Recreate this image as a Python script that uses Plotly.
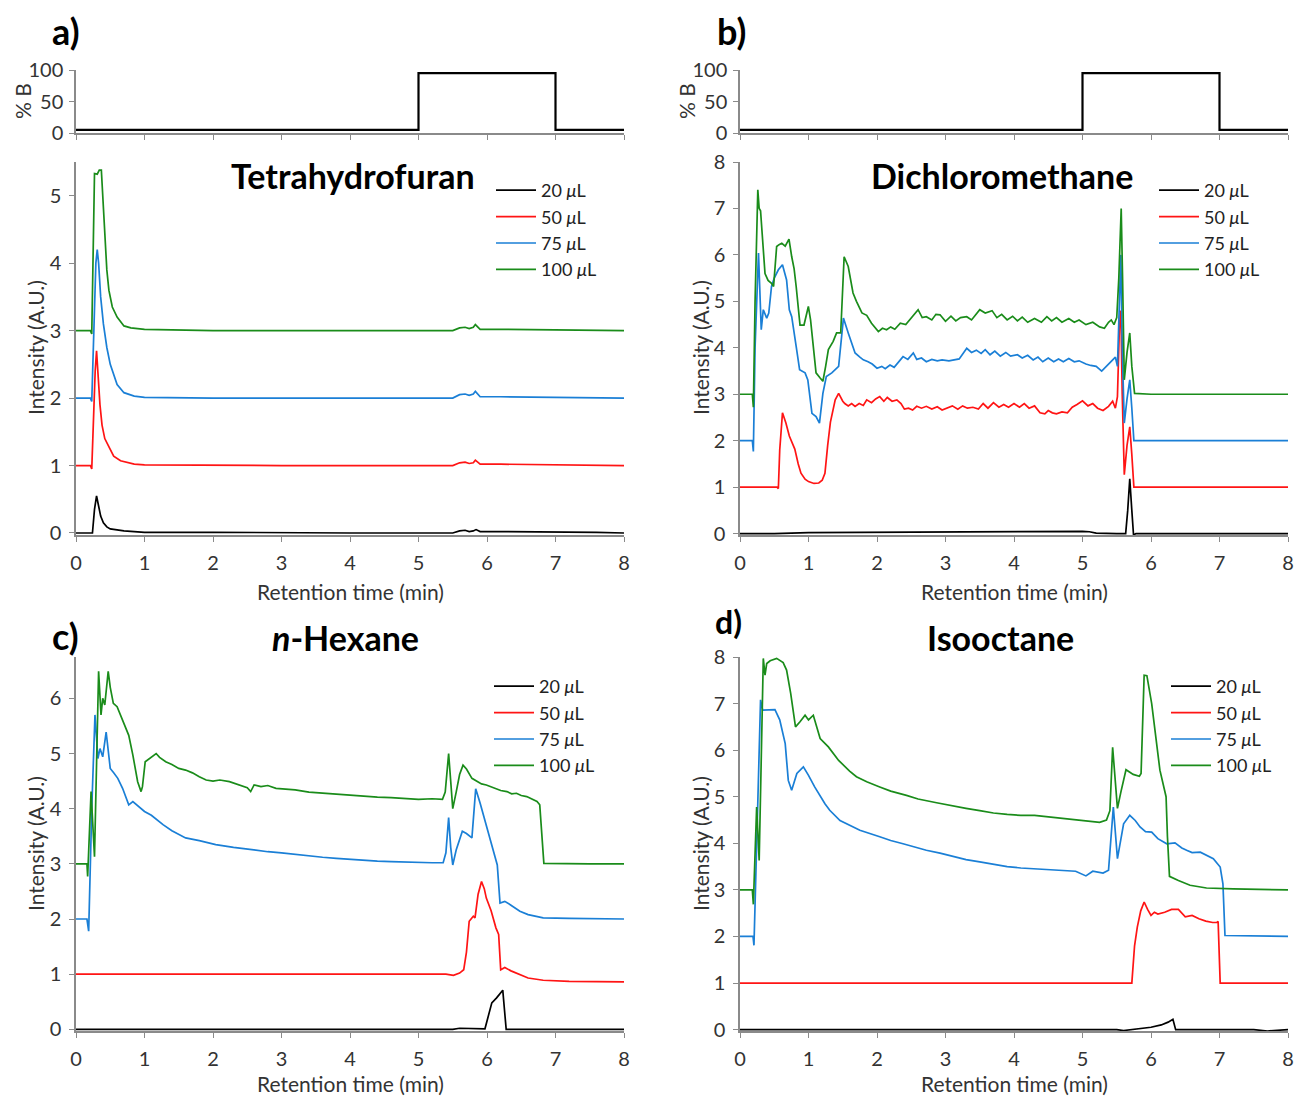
import plotly.graph_objects as go

# ---------------- data ----------------
VOLUMES = ["20", "50", "75", "100"]

GRAD_T = [0, 5.0, 5.0, 7.0, 7.0, 8.0]
GRAD_B = [5, 5, 95, 95, 5, 5]

# Tetrahydrofuran (time, intensity)
THF_20 = [(0, 0.0), (0.22, 0.0), (0.24, 0.0), (0.27, 0.35), (0.3, 0.55), (0.33, 0.4), (0.36, 0.25), (0.4, 0.15),
          (0.45, 0.09), (0.5, 0.06), (0.6, 0.04), (0.7, 0.03), (0.85, 0.02), (1.0, 0.01), (2.0, 0.01), (3.0, 0.0),
          (4.0, 0.0), (5.0, 0.0), (5.5, 0.0), (5.6, 0.03), (5.68, 0.04), (5.74, 0.02), (5.8, 0.03), (5.84, 0.05),
          (5.9, 0.02), (6.2, 0.02), (6.25, 0.02), (7.0, 0.01), (7.6, 0.01), (8.0, 0.0)]
THF_50 = [(0, 1.0), (0.21, 1.0), (0.23, 0.95), (0.25, 1.6), (0.28, 2.4), (0.3, 2.7), (0.32, 2.3), (0.35, 1.9),
          (0.38, 1.6), (0.42, 1.4), (0.47, 1.3), (0.55, 1.14), (0.65, 1.07), (0.75, 1.04), (0.85, 1.02),
          (1.0, 1.01), (2.0, 1.0), (3.0, 1.0), (4.0, 1.0), (5.0, 1.0), (5.5, 1.0), (5.6, 1.04), (5.68, 1.05),
          (5.74, 1.03), (5.8, 1.04), (5.83, 1.08), (5.9, 1.02), (6.2, 1.02), (7.6, 1.01), (8.0, 1.0)]
THF_75 = [(0, 2.0), (0.21, 2.0), (0.23, 1.95), (0.26, 3.2), (0.29, 4.0), (0.31, 4.2), (0.33, 4.0), (0.36, 3.5),
          (0.4, 3.1), (0.45, 2.75), (0.5, 2.5), (0.6, 2.2), (0.7, 2.08), (0.85, 2.03), (1.0, 2.01), (2.0, 2.0),
          (3.0, 2.0), (4.0, 2.0), (5.0, 2.0), (5.5, 2.0), (5.6, 2.05), (5.68, 2.06), (5.74, 2.04), (5.8, 2.06),
          (5.83, 2.1), (5.9, 2.02), (6.2, 2.02), (7.6, 2.01), (8.0, 2.0)]
THF_100 = [(0, 3.0), (0.21, 3.0), (0.23, 2.95), (0.25, 4.5), (0.27, 5.33), (0.31, 5.32), (0.34, 5.38),
           (0.37, 5.38), (0.39, 5.0), (0.42, 4.5), (0.45, 3.9), (0.48, 3.6), (0.53, 3.35), (0.6, 3.2),
           (0.7, 3.07), (0.8, 3.04), (1.0, 3.02), (2.0, 3.0), (3.0, 3.0), (4.0, 3.0), (5.0, 3.0), (5.5, 3.0),
           (5.6, 3.04), (5.68, 3.05), (5.74, 3.03), (5.8, 3.05), (5.83, 3.09), (5.9, 3.02), (6.2, 3.02),
           (7.6, 3.01), (8.0, 3.0)]

# Dichloromethane
DCM_20 = [(0, 0.0), (0.5, 0.0), (1.0, 0.02), (2.0, 0.03), (3.0, 0.04), (4.0, 0.05), (5.0, 0.05), (5.1, 0.04),
          (5.2, 0.01), (5.5, 0.0), (5.63, 0.0), (5.66, 0.5), (5.69, 1.18), (5.72, 0.5), (5.745, -0.03),
          (5.78, 0.0), (8.0, 0.0)]
DCM_50 = [(0, 1.0), (0.54, 1.0), (0.56, 0.97), (0.58, 1.8), (0.62, 2.6), (0.67, 2.38), (0.72, 2.1), (0.76, 1.95),
          (0.8, 1.82), (0.85, 1.5), (0.89, 1.3), (0.95, 1.17), (1.0, 1.12), (1.08, 1.08), (1.15, 1.09),
          (1.2, 1.15), (1.24, 1.3), (1.28, 1.9), (1.32, 2.4), (1.39, 2.88), (1.44, 3.02), (1.5, 2.85),
          (1.53, 2.8), (1.58, 2.75), (1.63, 2.8), (1.68, 2.74), (1.74, 2.8), (1.8, 2.76), (1.85, 2.88),
          (1.92, 2.82), (1.98, 2.9), (2.04, 2.95), (2.1, 2.85), (2.15, 2.93), (2.22, 2.85), (2.29, 2.88),
          (2.35, 2.8), (2.4, 2.68), (2.46, 2.7), (2.52, 2.66), (2.58, 2.74), (2.65, 2.7), (2.72, 2.74),
          (2.8, 2.68), (2.88, 2.73), (2.95, 2.66), (3.02, 2.7), (3.1, 2.75), (3.18, 2.68), (3.25, 2.75),
          (3.32, 2.7), (3.4, 2.72), (3.48, 2.68), (3.55, 2.8), (3.62, 2.7), (3.7, 2.82), (3.78, 2.72),
          (3.85, 2.78), (3.92, 2.72), (4.0, 2.8), (4.08, 2.72), (4.15, 2.8), (4.22, 2.7), (4.3, 2.75),
          (4.38, 2.6), (4.45, 2.58), (4.5, 2.65), (4.56, 2.6), (4.62, 2.58), (4.7, 2.62), (4.78, 2.6),
          (4.85, 2.72), (4.92, 2.78), (5.0, 2.86), (5.08, 2.75), (5.15, 2.8), (5.22, 2.7), (5.3, 2.65),
          (5.38, 2.74), (5.44, 2.85), (5.48, 2.7), (5.51, 2.95), (5.54, 4.5), (5.56, 4.8), (5.58, 3.0),
          (5.61, 1.27), (5.65, 1.9), (5.69, 2.3), (5.72, 1.7), (5.75, 1.0), (6.0, 1.0), (8.0, 1.0)]
DCM_75 = [(0, 2.0), (0.18, 2.0), (0.195, 1.77), (0.22, 4.0), (0.27, 6.04), (0.31, 4.39), (0.34, 4.82),
          (0.39, 4.64), (0.42, 4.75), (0.46, 5.32), (0.5, 5.5), (0.56, 5.68), (0.62, 5.79), (0.68, 5.46),
          (0.72, 4.82), (0.755, 4.67), (0.82, 4.03), (0.87, 3.53), (0.95, 3.46), (0.99, 3.31), (1.05, 2.59),
          (1.11, 2.52), (1.16, 2.38), (1.21, 3.02), (1.26, 3.38), (1.34, 3.46), (1.44, 3.6), (1.48, 4.3),
          (1.51, 4.64), (1.58, 4.32), (1.68, 3.89), (1.75, 3.8), (1.8, 3.74), (1.87, 3.7), (1.93, 3.65),
          (2.0, 3.56), (2.07, 3.6), (2.12, 3.55), (2.19, 3.63), (2.25, 3.58), (2.32, 3.7), (2.38, 3.81),
          (2.45, 3.75), (2.53, 3.89), (2.58, 3.75), (2.65, 3.78), (2.72, 3.7), (2.8, 3.75), (2.88, 3.72),
          (2.95, 3.74), (3.05, 3.72), (3.11, 3.74), (3.2, 3.76), (3.31, 3.99), (3.38, 3.9), (3.45, 3.95),
          (3.52, 3.88), (3.58, 3.96), (3.65, 3.85), (3.72, 3.93), (3.8, 3.82), (3.88, 3.9), (3.95, 3.82),
          (4.05, 3.85), (4.12, 3.78), (4.2, 3.84), (4.28, 3.74), (4.35, 3.8), (4.42, 3.7), (4.5, 3.78),
          (4.58, 3.7), (4.65, 3.76), (4.72, 3.7), (4.8, 3.77), (4.88, 3.7), (4.95, 3.72), (5.05, 3.65),
          (5.12, 3.62), (5.2, 3.6), (5.28, 3.5), (5.35, 3.6), (5.42, 3.7), (5.48, 3.8), (5.51, 3.6),
          (5.54, 5.0), (5.56, 6.0), (5.58, 4.0), (5.61, 2.38), (5.65, 2.9), (5.69, 3.31), (5.72, 2.7),
          (5.75, 2.0), (6.0, 2.0), (8.0, 2.0)]
DCM_100 = [(0, 3.0), (0.18, 3.0), (0.195, 2.72), (0.22, 5.0), (0.26, 7.4), (0.28, 7.0), (0.3, 6.95),
           (0.33, 6.2), (0.365, 5.6), (0.41, 5.45), (0.46, 5.39), (0.49, 5.32), (0.535, 6.18), (0.57, 6.22),
           (0.61, 6.25), (0.66, 6.19), (0.715, 6.34), (0.755, 5.96), (0.79, 5.7), (0.82, 5.32), (0.876, 4.49),
           (0.934, 4.49), (0.998, 4.89), (1.03, 4.6), (1.07, 4.0), (1.11, 3.46), (1.17, 3.35), (1.21, 3.28),
           (1.25, 3.6), (1.29, 3.96), (1.36, 4.14), (1.41, 4.32), (1.47, 4.32), (1.52, 5.96), (1.58, 5.75),
           (1.65, 5.18), (1.7, 5.0), (1.78, 4.75), (1.85, 4.7), (1.92, 4.53), (2.02, 4.35), (2.08, 4.42),
           (2.14, 4.39), (2.2, 4.45), (2.26, 4.4), (2.34, 4.53), (2.42, 4.5), (2.5, 4.65), (2.6, 4.82),
           (2.66, 4.65), (2.72, 4.67), (2.8, 4.6), (2.86, 4.72), (2.92, 4.71), (3.0, 4.57), (3.08, 4.68),
           (3.15, 4.58), (3.22, 4.65), (3.31, 4.67), (3.38, 4.6), (3.45, 4.72), (3.5, 4.82), (3.58, 4.75),
           (3.68, 4.8), (3.75, 4.65), (3.82, 4.72), (3.9, 4.6), (3.98, 4.68), (4.05, 4.58), (4.12, 4.66),
           (4.2, 4.55), (4.3, 4.63), (4.4, 4.55), (4.48, 4.67), (4.55, 4.58), (4.62, 4.65), (4.7, 4.55),
           (4.8, 4.63), (4.88, 4.55), (4.95, 4.6), (5.05, 4.5), (5.15, 4.55), (5.25, 4.45), (5.32, 4.42),
           (5.38, 4.55), (5.42, 4.6), (5.46, 4.5), (5.5, 4.65), (5.53, 5.5), (5.565, 7.0), (5.585, 5.5),
           (5.61, 3.31), (5.65, 3.9), (5.69, 4.32), (5.72, 3.6), (5.76, 3.02), (6.0, 3.0), (8.0, 3.0)]

# n-Hexane
HEX_20 = [(0, 0.0), (5.5, 0.0), (5.6, 0.02), (5.97, 0.01), (6.07, 0.48), (6.14, 0.57), (6.23, 0.71),
          (6.28, 0.0), (8.0, 0.0)]
HEX_50 = [(0, 1.0), (5.4, 1.0), (5.51, 0.98), (5.6, 1.02), (5.66, 1.08), (5.7, 1.4), (5.74, 1.96), (5.8, 2.05),
          (5.825, 2.02), (5.87, 2.45), (5.92, 2.68), (5.96, 2.55), (5.99, 2.38), (6.06, 2.15), (6.13, 1.84),
          (6.17, 1.72), (6.2, 1.08), (6.26, 1.12), (6.35, 1.06), (6.48, 0.99), (6.6, 0.93), (6.82, 0.89),
          (7.2, 0.87), (8.0, 0.86)]
HEX_75 = [(0, 2.0), (0.16, 2.0), (0.185, 1.78), (0.23, 4.0), (0.277, 5.7), (0.32, 4.91), (0.35, 5.09),
          (0.39, 4.94), (0.44, 5.39), (0.5, 4.73), (0.55, 4.65), (0.61, 4.55), (0.68, 4.37), (0.77, 4.07),
          (0.83, 4.13), (0.9, 4.05), (1.0, 3.95), (1.1, 3.88), (1.27, 3.71), (1.4, 3.6), (1.6, 3.47),
          (1.8, 3.42), (2.04, 3.35), (2.3, 3.3), (2.58, 3.25), (2.8, 3.22), (3.0, 3.2), (3.2, 3.17),
          (3.4, 3.14), (3.6, 3.12), (3.8, 3.1), (4.0, 3.08), (4.2, 3.07), (4.4, 3.05), (4.6, 3.04),
          (4.8, 3.03), (5.0, 3.02), (5.2, 3.02), (5.36, 3.02), (5.4, 3.2), (5.44, 3.84), (5.47, 3.3),
          (5.5, 2.98), (5.55, 3.25), (5.64, 3.59), (5.7, 3.55), (5.78, 3.47), (5.835, 4.36), (5.9, 4.1),
          (5.99, 3.7), (6.07, 3.3), (6.15, 2.98), (6.19, 2.29), (6.26, 2.32), (6.35, 2.25), (6.48, 2.14),
          (6.6, 2.08), (6.82, 2.02), (7.2, 2.01), (8.0, 2.0)]
HEX_100 = [(0, 3.0), (0.16, 3.0), (0.17, 2.77), (0.22, 4.31), (0.27, 3.13), (0.33, 6.49), (0.365, 5.7),
           (0.39, 6.0), (0.42, 5.88), (0.47, 6.49), (0.5, 6.2), (0.545, 5.91), (0.6, 5.85), (0.66, 5.67),
           (0.72, 5.5), (0.77, 5.33), (0.83, 4.97), (0.9, 4.49), (0.95, 4.31), (0.97, 4.4), (1.01, 4.85),
           (1.08, 4.92), (1.17, 5.0), (1.22, 4.93), (1.31, 4.85), (1.4, 4.8), (1.5, 4.73), (1.6, 4.7),
           (1.7, 4.65), (1.8, 4.58), (1.9, 4.52), (2.0, 4.5), (2.1, 4.52), (2.24, 4.49), (2.35, 4.44),
           (2.43, 4.4), (2.5, 4.38), (2.55, 4.31), (2.6, 4.43), (2.7, 4.4), (2.8, 4.42), (2.92, 4.37),
           (3.0, 4.36), (3.2, 4.34), (3.4, 4.3), (3.6, 4.28), (3.8, 4.26), (4.0, 4.24), (4.2, 4.23),
           (4.4, 4.21), (4.6, 4.2), (4.8, 4.18), (5.0, 4.17), (5.2, 4.18), (5.35, 4.17), (5.39, 4.3),
           (5.44, 5.0), (5.47, 4.5), (5.5, 4.0), (5.55, 4.3), (5.6, 4.62), (5.65, 4.79), (5.7, 4.72),
           (5.78, 4.55), (5.85, 4.5), (5.92, 4.45), (5.99, 4.43), (6.1, 4.38), (6.2, 4.33), (6.29, 4.31),
           (6.36, 4.27), (6.43, 4.28), (6.5, 4.24), (6.58, 4.22), (6.65, 4.18), (6.73, 4.13), (6.77, 4.07),
           (6.8, 3.5), (6.83, 3.01), (7.5, 3.0), (8.0, 3.0)]

# Isooctane
ISO_20 = [(0, 0.0), (5.5, 0.0), (5.6, -0.02), (5.8, 0.02), (6.0, 0.05), (6.15, 0.1), (6.25, 0.16), (6.32, 0.22),
          (6.36, 0.0), (7.5, 0.0), (7.7, -0.03), (8.0, 0.0)]
ISO_50 = [(0, 1.0), (5.72, 1.0), (5.76, 1.8), (5.8, 2.2), (5.85, 2.55), (5.9, 2.74), (5.95, 2.58), (6.0, 2.45),
          (6.05, 2.52), (6.1, 2.48), (6.2, 2.52), (6.3, 2.58), (6.4, 2.58), (6.45, 2.5), (6.5, 2.42),
          (6.6, 2.45), (6.7, 2.38), (6.8, 2.33), (6.9, 2.3), (6.96, 2.3), (6.98, 2.32), (7.01, 1.0), (8.0, 1.0)]
ISO_75 = [(0, 2.0), (0.19, 2.0), (0.204, 1.81), (0.243, 3.78), (0.3, 7.08), (0.33, 6.86), (0.51, 6.87),
          (0.58, 6.65), (0.66, 6.14), (0.705, 5.35), (0.754, 5.14), (0.83, 5.5), (0.925, 5.64), (1.0, 5.46),
          (1.09, 5.21), (1.24, 4.85), (1.31, 4.71), (1.46, 4.49), (1.6, 4.38), (1.75, 4.28), (2.04, 4.14),
          (2.2, 4.06), (2.38, 3.99), (2.55, 3.92), (2.72, 3.85), (2.92, 3.79), (3.1, 3.72), (3.3, 3.65),
          (3.5, 3.6), (3.7, 3.55), (3.9, 3.5), (4.1, 3.47), (4.3, 3.45), (4.5, 3.43), (4.7, 3.41),
          (4.9, 3.4), (5.05, 3.3), (5.15, 3.4), (5.3, 3.36), (5.38, 3.42), (5.45, 4.78), (5.51, 3.67),
          (5.6, 4.42), (5.69, 4.6), (5.77, 4.49), (5.84, 4.35), (5.92, 4.25), (6.01, 4.24), (6.1, 4.1),
          (6.23, 3.99), (6.35, 4.01), (6.45, 3.9), (6.52, 3.85), (6.6, 3.8), (6.72, 3.81), (6.8, 3.75),
          (6.91, 3.67), (7.01, 3.49), (7.05, 3.13), (7.08, 2.02), (8.0, 2.0)]
ISO_100 = [(0, 3.0), (0.18, 3.0), (0.195, 2.69), (0.243, 4.78), (0.28, 3.63), (0.34, 7.97), (0.365, 7.61),
           (0.39, 7.86), (0.44, 7.92), (0.535, 7.97), (0.63, 7.88), (0.68, 7.72), (0.74, 7.22), (0.81, 6.5),
           (0.876, 6.61), (0.95, 6.75), (1.0, 6.65), (1.07, 6.75), (1.17, 6.25), (1.29, 6.07), (1.44, 5.78),
           (1.51, 5.68), (1.6, 5.55), (1.7, 5.43), (1.85, 5.32), (2.04, 5.21), (2.2, 5.12), (2.43, 5.03),
           (2.6, 4.95), (2.87, 4.87), (3.1, 4.8), (3.3, 4.75), (3.5, 4.7), (3.7, 4.65), (3.9, 4.62),
           (4.1, 4.6), (4.3, 4.6), (4.5, 4.57), (4.7, 4.53), (4.9, 4.5), (5.1, 4.47), (5.25, 4.45),
           (5.35, 4.5), (5.4, 4.7), (5.44, 6.06), (5.48, 5.2), (5.51, 4.75), (5.56, 5.1), (5.635, 5.58),
           (5.74, 5.48), (5.83, 5.44), (5.855, 5.5), (5.9, 7.61), (5.94, 7.6), (6.01, 7.0), (6.13, 5.57),
           (6.18, 5.28), (6.22, 5.0), (6.24, 4.14), (6.27, 3.29), (6.4, 3.2), (6.57, 3.1), (6.81, 3.04),
           (7.2, 3.02), (8.0, 3.0)]

# ---------------- styling ----------------
FONT = "Lato"
COLORS = ["#000000", "#ff1414", "#1a7fd6", "#1a8c1a"]
AXCOL = "#8a8a8a"
TXT = "#333333"
W, H = 1296, 1098


def px(x):
    return x / W


def py(y):
    return 1 - y / H


fig = go.Figure()

panels = [
    ([THF_20, THF_50, THF_75, THF_100], "x2", "y2", "legend"),
    ([DCM_20, DCM_50, DCM_75, DCM_100], "x4", "y4", "legend2"),
    ([HEX_20, HEX_50, HEX_75, HEX_100], "x5", "y5", "legend3"),
    ([ISO_20, ISO_50, ISO_75, ISO_100], "x6", "y6", "legend4"),
]

for series, xa, ya, lg in panels:
    for vol, s, c in zip(VOLUMES, series, COLORS):
        t = [p[0] for p in s]
        v = [p[1] for p in s]
        fig.add_trace(go.Scatter(x=t, y=v, mode="lines", line=dict(color=c, width=1.7),
                                 name=f"{vol} <i>μ</i>L", xaxis=xa, yaxis=ya, legend=lg,
                                 showlegend=True))

for xa, ya in [("x", "y"), ("x3", "y3")]:
    fig.add_trace(go.Scatter(x=GRAD_T, y=GRAD_B, mode="lines", line=dict(color="black", width=2.2),
                             xaxis=xa, yaxis=ya, showlegend=False))

tickfont = dict(family=FONT, size=20, color=TXT)
base_ax = dict(showline=True, linecolor=AXCOL, linewidth=1.5, ticks="outside", tickcolor=AXCOL,
               ticklen=5, tickwidth=1.2, showgrid=False, zeroline=False, tickfont=tickfont,
               automargin=False)

LX = {"a": (76, 624), "b": (740, 1288)}
MAIN_TOP, MAIN_BOT = 162, 535
LOW_TOP, LOW_BOT = 657, 1031


def xmain(dom, anchor):
    return dict(base_ax, domain=[px(dom[0]), px(dom[1])], range=[0, 8], dtick=1, anchor=anchor,
                ticklabelstandoff=4)


def ymain(top, bot, rmax, anchor):
    return dict(base_ax, domain=[py(bot), py(top)], range=[-0.03, rmax], dtick=1, anchor=anchor,
                ticklabelstandoff=4)


def xgrad(dom, anchor):
    return dict(base_ax, domain=[px(dom[0]), px(dom[1])], range=[0, 8], dtick=1, anchor=anchor,
                showticklabels=False)


def ygrad(anchor):
    return dict(base_ax, domain=[py(133), py(70)], range=[0, 100], tickvals=[0, 50, 100], anchor=anchor,
                ticklabelstandoff=2)


leg_base = dict(font=dict(family=FONT, size=18, color="#222222"), bgcolor="rgba(0,0,0,0)",
                xanchor="left", yanchor="top", itemwidth=40, tracegroupgap=0, borderwidth=0)

fig.update_layout(
    width=W, height=H, autosize=False,
    margin=dict(l=0, r=0, t=0, b=0),
    paper_bgcolor="white", plot_bgcolor="white",
    font=dict(family=FONT),
    xaxis=xgrad(LX["a"], "y"), yaxis=ygrad("x"),
    xaxis2=xmain(LX["a"], "y2"), yaxis2=ymain(MAIN_TOP, MAIN_BOT, 5.5, "x2"),
    xaxis3=xgrad(LX["b"], "y3"), yaxis3=ygrad("x3"),
    xaxis4=xmain(LX["b"], "y4"), yaxis4=ymain(MAIN_TOP, MAIN_BOT, 8.0, "x4"),
    xaxis5=xmain(LX["a"], "y5"), yaxis5=ymain(LOW_TOP, LOW_BOT, 6.75, "x5"),
    xaxis6=xmain(LX["b"], "y6"), yaxis6=ymain(LOW_TOP, LOW_BOT, 8.0, "x6"),
    legend=dict(leg_base, x=px(491), y=py(172)),
    legend2=dict(leg_base, x=px(1154), y=py(172)),
    legend3=dict(leg_base, x=px(489), y=py(668)),
    legend4=dict(leg_base, x=px(1166), y=py(668)),
)

# panel letters and solvent titles
ann = [
    ("<b>a)</b>", 50, 31, 36, "left"),
    ("<b>b)</b>", 715, 31, 36, "left"),
    ("<b>c)</b>", 50, 636, 36, "left"),
    ("<b>d)</b>", 713, 621, 32, "left"),
    ("<b>Tetrahydrofuran</b>", 353, 175, 34, "center"),
    ("<b>Dichloromethane</b>", 1002, 175, 34, "center"),
    ("<b><i>n</i>-Hexane</b>", 345, 637, 34, "center"),
    ("<b>Isooctane</b>", 1000, 637, 34, "center"),
]
for text, x, y, size, xa in ann:
    fig.add_annotation(text=text, x=px(x), y=py(y), xref="paper", yref="paper", showarrow=False,
                       xanchor=xa, yanchor="middle", font=dict(family=FONT, size=size, color="black"))

# axis titles
axis_titles = [
    ("Retention time (min)", 350, 591, 0), ("Retention time (min)", 1014, 591, 0),
    ("Retention time (min)", 350, 1083, 0), ("Retention time (min)", 1014, 1083, 0),
    ("Intensity (A.U.)", 35, 348, -90), ("Intensity (A.U.)", 700, 348, -90),
    ("Intensity (A.U.)", 35, 844, -90), ("Intensity (A.U.)", 700, 844, -90),
    ("% B", 22, 101, -90), ("% B", 686, 101, -90),
]
for text, x, y, ang in axis_titles:
    fig.add_annotation(text=text, x=px(x), y=py(y), xref="paper", yref="paper", showarrow=False,
                       xanchor="center", yanchor="middle", textangle=ang,
                       font=dict(family=FONT, size=21, color=TXT))

fig.write_html("out.html", config={"displayModeBar": False},
               post_script="document.body.style.margin='0px';")
